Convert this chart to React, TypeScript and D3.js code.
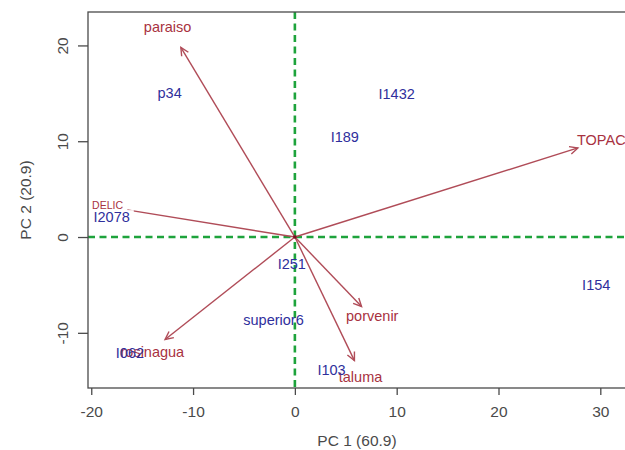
import React, { useEffect, useRef } from 'react';
import * as d3 from 'd3';

// scores (blue labels)
const sampleNames = ['p34', 'I1432', 'I189', 'I2078', 'I251', 'superior6', 'I062', 'I103', 'I154'];
const sampleX = [-12.3, 10.0, 4.9, -18.0, -0.3, -2.1, -16.2, 3.6, 29.6];
const sampleY = [15.1, 15.0, 10.5, 2.1, -2.75, -8.6, -12.1, -13.9, -5.0];

// loadings (red arrows)
const varNames = ['paraiso', 'TOPAC', 'DELIC', 'rosinagua', 'porvenir', 'taluma'];
const loadX = [-11.2, 27.8, -18.0, -12.75, 6.55, 5.85];
const loadY = [19.8, 9.3, 3.09, -10.7, -7.25, -12.9];
const varLabelX = [-12.5, 30.1, -18.4, -14.0, 7.6, 6.45];
const varLabelY = [21.9, 10.1, 3.35, -12.0, -8.25, -14.6];

const xTicks = [-20, -10, 0, 10, 20, 30];
const yTicks = [-10, 0, 10, 20];

export default function App() {
  const svgRef = useRef<SVGSVGElement | null>(null);

  useEffect(() => {
    const svg = d3.select(svgRef.current);
    svg.selectAll('*').remove();

    const left = 88, right = 628, top = 12, bottom = 388;
    const x = d3.scaleLinear().domain([-20.32, 32.72]).range([left, right]);
    const y = d3.scaleLinear().domain([-15.76, 23.49]).range([bottom, top]);
    const font = 'Liberation Sans, Arial, sans-serif';
    const axisCol = '#4a4a4a';
    const blue = '#2f2f9c';
    const red = '#a8323f';
    const arrowCol = '#b04c58';

    // zero lines
    const green = '#1ea33c';
    svg.append('line')
      .attr('x1', left).attr('x2', right).attr('y1', y(0)).attr('y2', y(0))
      .attr('stroke', green).attr('stroke-width', 2.6).attr('stroke-dasharray', '7,4.5');
    svg.append('line')
      .attr('x1', x(0)).attr('x2', x(0)).attr('y1', top).attr('y2', bottom)
      .attr('stroke', green).attr('stroke-width', 2.6).attr('stroke-dasharray', '7,4.5');

    // box
    svg.append('rect')
      .attr('x', left).attr('y', top).attr('width', right - left).attr('height', bottom - top)
      .attr('fill', 'none').attr('stroke', axisCol).attr('stroke-width', 1.3);

    // axes (plain hyphen for negatives, like R)
    const fmt = (d: any) => String(d);
    const gx = svg.append('g').attr('transform', `translate(0,${bottom})`)
      .call(d3.axisBottom(x).tickValues(xTicks).tickSize(7).tickFormat(fmt));
    gx.select('.domain').remove();
    gx.selectAll('line').attr('stroke', axisCol).attr('stroke-width', 1.3);
    gx.selectAll('text').attr('y', 18).attr('font-size', 15.5).attr('font-family', font).attr('fill', axisCol);

    const gy = svg.append('g').attr('transform', `translate(${left},0)`)
      .call(d3.axisLeft(y).tickValues(yTicks).tickSize(10).tickFormat(fmt));
    gy.select('.domain').remove();
    gy.selectAll('line').attr('stroke', axisCol).attr('stroke-width', 1.3);
    gy.selectAll('text')
      .attr('x', 0).attr('dy', 0)
      .attr('transform', 'translate(-20.5,0) rotate(-90)')
      .attr('text-anchor', 'middle')
      .attr('font-size', 15.5).attr('font-family', font).attr('fill', axisCol);

    svg.append('text')
      .attr('x', 357).attr('y', 445.5).attr('text-anchor', 'middle')
      .attr('font-size', 15.5).attr('font-family', font).attr('fill', axisCol)
      .text('PC 1 (60.9)');
    svg.append('text')
      .attr('transform', `translate(30.5,${(top + bottom) / 2}) rotate(-90)`)
      .attr('text-anchor', 'middle')
      .attr('font-size', 15.5).attr('font-family', font).attr('fill', axisCol)
      .text('PC 2 (20.9)');

    // arrows
    varNames.forEach((name, i) => {
      const x0 = x(0), y0 = y(0), x1 = x(loadX[i]), y1 = y(loadY[i]);
      const ang = Math.atan2(y1 - y0, x1 - x0);
      const len = 9, spread = Math.PI / 7;
      svg.append('line')
        .attr('x1', x0).attr('y1', y0).attr('x2', x1).attr('y2', y1)
        .attr('stroke', arrowCol).attr('stroke-width', 1.4);
      svg.append('path')
        .attr('d', d3.line()([
          [x1 - len * Math.cos(ang - spread), y1 - len * Math.sin(ang - spread)],
          [x1, y1],
          [x1 - len * Math.cos(ang + spread), y1 - len * Math.sin(ang + spread)],
        ]))
        .attr('fill', 'none').attr('stroke', arrowCol).attr('stroke-width', 1.4);
    });

    svg.append('circle').attr('cx', x(0)).attr('cy', y(0)).attr('r', 1.8).attr('fill', '#7a1020');

    // labels; the ones at the left edge sit on a white patch like in the original
    const addLabel = (txt: string, vx: number, vy: number, col: string, size: number, patch: boolean) => {
      const g = svg.append('g');
      const t = g.append('text')
        .attr('x', x(vx)).attr('y', y(vy)).attr('dy', '0.36em')
        .attr('text-anchor', 'middle')
        .attr('font-size', size).attr('font-family', font).attr('fill', col)
        .text(txt);
      if (patch) {
        const b = (t.node() as SVGTextElement).getBBox();
        g.insert('rect', 'text')
          .attr('x', b.x - 2).attr('y', b.y + 1).attr('width', b.width + 6).attr('height', b.height - 1)
          .attr('fill', 'white');
      }
    };

    varNames.forEach((name, i) => {
      addLabel(name, varLabelX[i], varLabelY[i], red, name === 'DELIC' ? 10.5 : 14.5, name === 'DELIC');
    });
    sampleNames.forEach((name, i) => {
      addLabel(name, sampleX[i], sampleY[i], blue, 14.5, name === 'I2078');
    });
  }, []);

  return (
    <svg
      ref={svgRef}
      width={625}
      height={450}
      style={{ position: 'absolute', left: 0, top: 0, background: 'white' }}
    ></svg>
  );
}
